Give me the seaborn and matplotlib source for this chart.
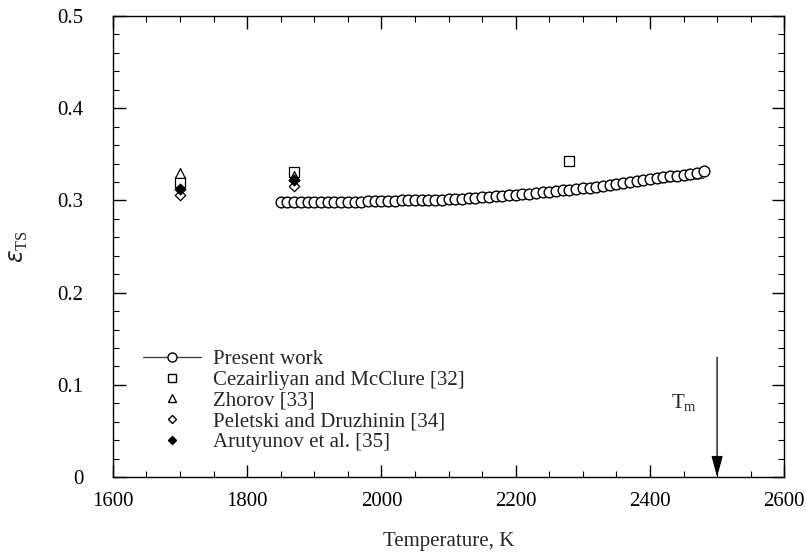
import numpy as np
import pandas as pd
import matplotlib
matplotlib.use("Agg")
import matplotlib.pyplot as plt
from matplotlib.lines import Line2D
from matplotlib.ticker import MultipleLocator
import seaborn as sns

# ---- data ----
present_T = list(range(1850, 2481, 10))
present_eps = [
    0.298, 0.298, 0.298, 0.298, 0.298, 0.298, 0.298, 0.298, 0.298, 0.298,
    0.298, 0.298, 0.298, 0.299, 0.299, 0.299, 0.299, 0.299, 0.300, 0.300,
    0.300, 0.300, 0.301, 0.301, 0.301, 0.302, 0.302, 0.302, 0.303, 0.303,
    0.304, 0.304, 0.305, 0.305, 0.306, 0.306, 0.307, 0.307, 0.308, 0.309,
    0.309, 0.310, 0.311, 0.311, 0.312, 0.313, 0.314, 0.315, 0.316, 0.317,
    0.318, 0.319, 0.320, 0.321, 0.322, 0.323, 0.324, 0.325, 0.326, 0.327,
    0.328, 0.329, 0.330, 0.332,
]
fit_T = [1850, 1900, 1950, 2000, 2050, 2100, 2150, 2200, 2250, 2300, 2350, 2400, 2450, 2480]
fit_eps = [0.298, 0.298, 0.298, 0.299, 0.300, 0.301, 0.303, 0.305, 0.308, 0.311, 0.314, 0.318, 0.322, 0.324]

cez_T = [1700, 1870, 2280]
cez_eps = [0.320, 0.331, 0.343]
zho_T = [1700, 1870]
zho_eps = [0.330, 0.327]
pel_T = [1700, 1870]
pel_eps = [0.306, 0.316]
aru_T = [1700, 1870]
aru_eps = [0.312, 0.322]

labels = ["Present work", "Cezairliyan and McClure [32]", "Zhorov [33]",
          "Peletski and Druzhinin [34]", "Arutyunov et al. [35]"]
Tm = 2500

# ---- style ----
sns.set_style("ticks")
plt.rcParams['font.family'] = ['Liberation Serif', 'DejaVu Serif']
plt.rcParams['mathtext.fontset'] = 'dejavusans'

fig = plt.figure(figsize=(8.06, 5.53), dpi=100)
ax = fig.add_axes([0.140, 0.1374, 0.833, 0.8336])

sns.lineplot(x=fit_T, y=fit_eps, ax=ax, color='#444444', lw=1.0, zorder=2)
sns.scatterplot(x=present_T, y=present_eps, ax=ax, marker='o', s=60,
                facecolor='white', edgecolor='black', linewidth=1.0, zorder=3)
sns.scatterplot(x=cez_T, y=cez_eps, ax=ax, marker='s', s=45,
                facecolor='white', edgecolor='black', linewidth=0.9, zorder=4)
sns.scatterplot(x=zho_T, y=zho_eps, ax=ax, marker='^', s=50,
                facecolor='white', edgecolor='black', linewidth=0.9, zorder=4)
sns.scatterplot(x=pel_T, y=pel_eps, ax=ax, marker='D', s=28,
                facecolor='white', edgecolor='black', linewidth=0.9, zorder=4)
sns.scatterplot(x=aru_T, y=aru_eps, ax=ax, marker='D', s=30,
                facecolor='black', edgecolor='black', linewidth=0.9, zorder=5)

ax.set_xlim(1600, 2600)
ax.set_ylim(0, 0.5)
ax.xaxis.set_major_locator(MultipleLocator(200))
ax.xaxis.set_minor_locator(MultipleLocator(50))
ax.yaxis.set_major_locator(MultipleLocator(0.1))
ax.yaxis.set_minor_locator(MultipleLocator(0.02))
ax.set_yticks([0, 0.1, 0.2, 0.3, 0.4, 0.5])
ax.set_yticklabels(['0', '0.1', '0.2', '0.3', '0.4', '0.5'])
ax.tick_params(which='both', direction='in', top=True, right=True, labelsize=15, colors='black')
ax.tick_params(which='major', length=9, width=1)
ax.tick_params(which='minor', length=4.5, width=0.8)
for s in ax.spines.values():
    s.set_linewidth(1.0)
    s.set_color('black')
ax.tick_params(axis='x', pad=11)
ax.tick_params(axis='y', pad=21)

ax.set_xlabel('Temperature, K', fontsize=15, labelpad=15)
ax.set_ylabel(r'$\varepsilon_{\mathregular{TS}}$', fontsize=17, labelpad=20)

# melting point arrow
ax.annotate('', xy=(Tm, 0), xytext=(Tm, 0.13),
            arrowprops=dict(arrowstyle='-|>,head_length=1.3,head_width=0.35',
                            color='black', lw=0.9, shrinkA=0, shrinkB=0))
ax.text(2432, 0.08, r'T$_{\mathregular{m}}$', fontsize=15, ha='left', va='center')

handles = [
    Line2D([], [], color='#444444', lw=1.0, marker='o', markersize=6.5,
           markerfacecolor='white', markeredgecolor='black'),
    Line2D([], [], ls='none', marker='s', markersize=5.5,
           markerfacecolor='white', markeredgecolor='black'),
    Line2D([], [], ls='none', marker='^', markersize=5.5,
           markerfacecolor='white', markeredgecolor='black'),
    Line2D([], [], ls='none', marker='D', markersize=4.2,
           markerfacecolor='white', markeredgecolor='black'),
    Line2D([], [], ls='none', marker='D', markersize=4.2,
           markerfacecolor='black', markeredgecolor='black'),
]
ax.legend(handles, labels, loc='upper left', bbox_to_anchor=(0.033, 0.294),
          frameon=False, fontsize=15, handlelength=2.75, handletextpad=0.6,
          labelspacing=0.05, borderaxespad=0)

fig.savefig('out.png', dpi=100)
